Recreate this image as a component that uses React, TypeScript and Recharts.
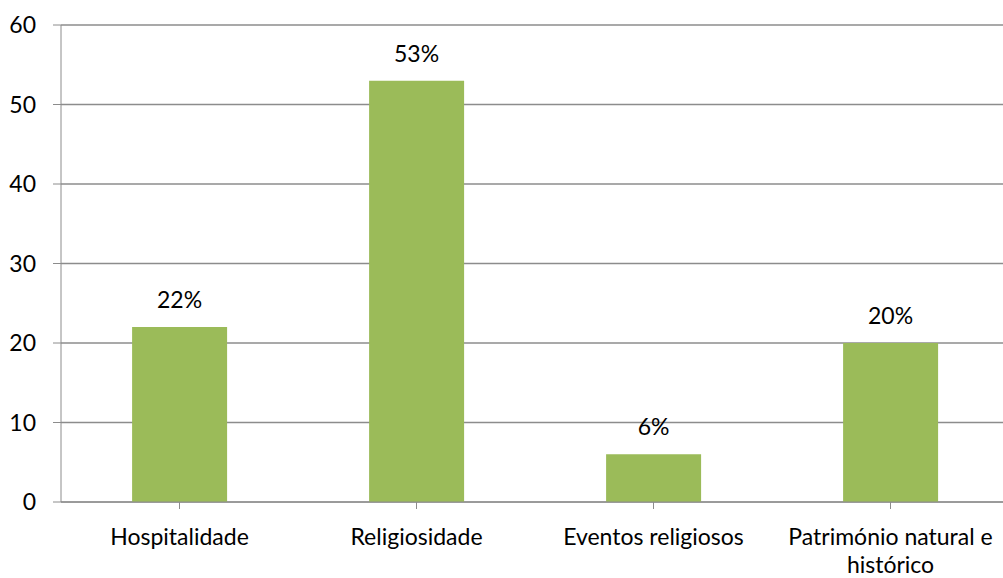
import { BarChart, Bar, XAxis, YAxis, CartesianGrid, LabelList } from 'recharts';

const categories = ['Hospitalidade', 'Religiosidade', 'Eventos religiosos', 'Património natural e histórico'];
const percentages = [22, 53, 6, 20];
const yTicks = [0, 10, 20, 30, 40, 50, 60];

const data = categories.map((name, i) => ({ name, value: percentages[i] }));

const FONT = 'Lato, "Open Sans", sans-serif';
const GRID = '#8c8c8c';

// simple word wrap, the category band is ~237px wide
const wrap = (s: string, max = 22) => {
  const lines: string[] = [];
  let cur = '';
  s.split(' ').forEach(w => {
    if (cur && (cur + ' ' + w).length > max) {
      lines.push(cur);
      cur = w;
    } else {
      cur = cur ? cur + ' ' + w : w;
    }
  });
  if (cur) lines.push(cur);
  return lines;
};

const CategoryTick = (props: any) => {
  const { x, y, payload } = props;
  const lines = wrap(String(payload.value));
  return (
    <text x={x} y={y + 34} textAnchor="middle" fontFamily={FONT} fontSize={23} fill="#000">
      {lines.map((l, i) => (
        <tspan key={i} x={x} dy={i === 0 ? 0 : 28}>
          {l}
        </tspan>
      ))}
    </text>
  );
};

export default function App() {
  return (
    <div style={{ position: 'absolute', left: 0, top: 0, width: 1003, height: 578, overflow: 'hidden', background: '#fff' }}>
      <BarChart
        width={1015}
        height={578}
        data={data}
        margin={{ top: 25, right: 6, bottom: 6, left: 0 }}
        barCategoryGap="30%"
      >
        <CartesianGrid vertical={false} stroke={GRID} strokeWidth={1.3} />
        <XAxis
          dataKey="name"
          interval={0}
          height={70}
          stroke={GRID}
          tickSize={7}
          tick={<CategoryTick />}
          tickLine={{ stroke: GRID }}
        />
        <YAxis
          domain={[0, 60]}
          ticks={yTicks}
          width={61}
          tickSize={8}
          tickMargin={17}
          stroke={GRID}
          tick={{ fill: '#000', fontSize: 23, fontFamily: FONT }}
        />
        <Bar dataKey="value" fill="#9BBB59" isAnimationActive={false}>
          <LabelList
            dataKey="value"
            position="top"
            offset={19}
            formatter={(v: any) => `${v}%`}
            style={{ fill: '#000', fontSize: 23, fontFamily: FONT }}
          />
        </Bar>
      </BarChart>
    </div>
  );
}
